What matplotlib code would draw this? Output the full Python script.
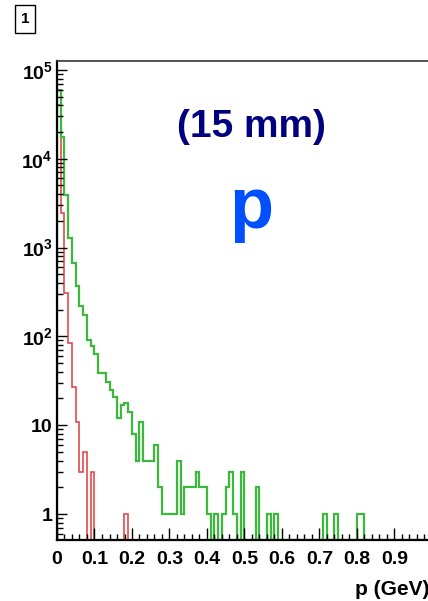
import numpy as np
import matplotlib
matplotlib.use("Agg")
import matplotlib.pyplot as plt
from matplotlib.ticker import MultipleLocator, LogLocator, FixedLocator, FixedFormatter, NullFormatter
from matplotlib.patches import Rectangle

# histogram: 100 bins of 0.01 GeV from 0 to 1
bin_edges = np.round(np.arange(0, 1.0001, 0.01), 2)

green_counts = [
    60000, 17700, 3930, 1290, 673, 371, 221, 175, 92, 78,
    63, 39, 39, 31, 25, 21, 12, 17, 18, 14,
    8, 4, 11, 4, 4, 4, 6, 2, 1, 1,
    1, 1, 4, 1, 2, 2, 2, 3, 2, 2,
    1, 0, 1, 0, 1, 2, 3, 1, 0, 3,
    0, 0, 0, 2, 0, 0, 1, 0, 1, 0,
    0, 0, 0, 0, 0, 0, 0, 0, 0, 0,
    0, 1, 0, 0, 1, 0, 0, 0, 0, 0,
    1, 1, 0, 0, 0, 0, 0, 0, 0, 0,
    0, 0, 0, 0, 0, 0, 0, 0, 0, 0,
]

red_counts = [
    40000, 2450, 309, 84, 27, 11, 3, 5, 0, 3,
    0, 0, 0, 0, 0, 0, 0, 0, 1, 0,
] + [0] * 80

x_tick_values = [0, 0.1, 0.2, 0.3, 0.4, 0.5, 0.6, 0.7, 0.8, 0.9, 1.0]
x_tick_labels = ["0", "0.1", "0.2", "0.3", "0.4", "0.5", "0.6", "0.7", "0.8", "0.9", "1"]
y_tick_values = [1, 10, 100, 1e3, 1e4, 1e5]
y_tick_labels = ["1", "10", r"$\mathbf{10^{2}}$", r"$\mathbf{10^{3}}$",
                 r"$\mathbf{10^{4}}$", r"$\mathbf{10^{5}}$"]

plt.rcParams["font.family"] = ["Liberation Sans", "DejaVu Sans"]
plt.rcParams["mathtext.fontset"] = "custom"
plt.rcParams["mathtext.rm"] = "Liberation Sans"
plt.rcParams["mathtext.bf"] = "Liberation Sans:bold"

W, H = 428, 601
fig = plt.figure(figsize=(W / 100, H / 100), dpi=100)
ax = fig.add_axes([57 / W, 61 / H, 375 / W, 479 / H])

ymin, ymax = 0.51, 1.26e5
ax.set_yscale("log")
ax.set_xlim(0, 1.0)
ax.set_ylim(ymin, ymax)

# empty bins sit on the frame bottom like ROOT does on a log axis
g = np.array(green_counts, dtype=float)
r = np.array(red_counts, dtype=float)
g = np.where(g > 0, g, ymin)
r = np.where(r > 0, r, ymin)
ax.stairs(r, bin_edges, baseline=ymin, color="#e24a4a", lw=1.2)
ax.stairs(g, bin_edges, baseline=ymin, color="#3cb93c", lw=1.6)

ax.xaxis.set_major_locator(FixedLocator(x_tick_values))
ax.xaxis.set_major_formatter(FixedFormatter(x_tick_labels))
ax.xaxis.set_minor_locator(MultipleLocator(0.02))
ax.yaxis.set_major_locator(FixedLocator(y_tick_values))
ax.yaxis.set_major_formatter(FixedFormatter(y_tick_labels))
ax.yaxis.set_minor_locator(LogLocator(base=10, subs=np.arange(2, 10), numticks=100))
ax.yaxis.set_minor_formatter(NullFormatter())

ax.tick_params(axis="x", which="major", direction="in", length=9, width=1, pad=8,
               labelsize=14)
ax.tick_params(axis="x", which="minor", direction="in", length=4.5, width=1)
ax.tick_params(axis="y", which="major", direction="in", length=7, width=1, pad=3,
               labelsize=14)
ax.tick_params(axis="y", which="minor", direction="in", length=4, width=1)
for lab in ax.get_xticklabels() + ax.get_yticklabels():
    lab.set_fontweight("bold")

ax.spines["left"].set_linewidth(1.6)
ax.spines["bottom"].set_linewidth(1.6)
ax.spines["top"].set_linewidth(1.2)
ax.spines["top"].set_color("#333333")

fig.text(251 / W, 1 - 127 / H, "(15 mm)", color="#000080", fontsize=28,
         fontweight="bold", ha="center", va="center")
fig.text(251 / W, 1 - 228 / H, "p", color="#0050ff", fontsize=52,
         fontweight="bold", ha="center", va="baseline")
fig.text(355 / W, 1 - 595 / H, "p (GeV)", color="black", fontsize=15,
         fontweight="bold", ha="left", va="baseline")

# pad number box
fig.patches.append(Rectangle((15 / W, 1 - 33 / H), 20 / W, 28 / H, fill=False,
                             edgecolor="black", lw=1, transform=fig.transFigure))
fig.text(25 / W, 1 - 19 / H, "1", fontsize=11, fontweight="bold",
         ha="center", va="center")

fig.savefig("out.png", dpi=100)
